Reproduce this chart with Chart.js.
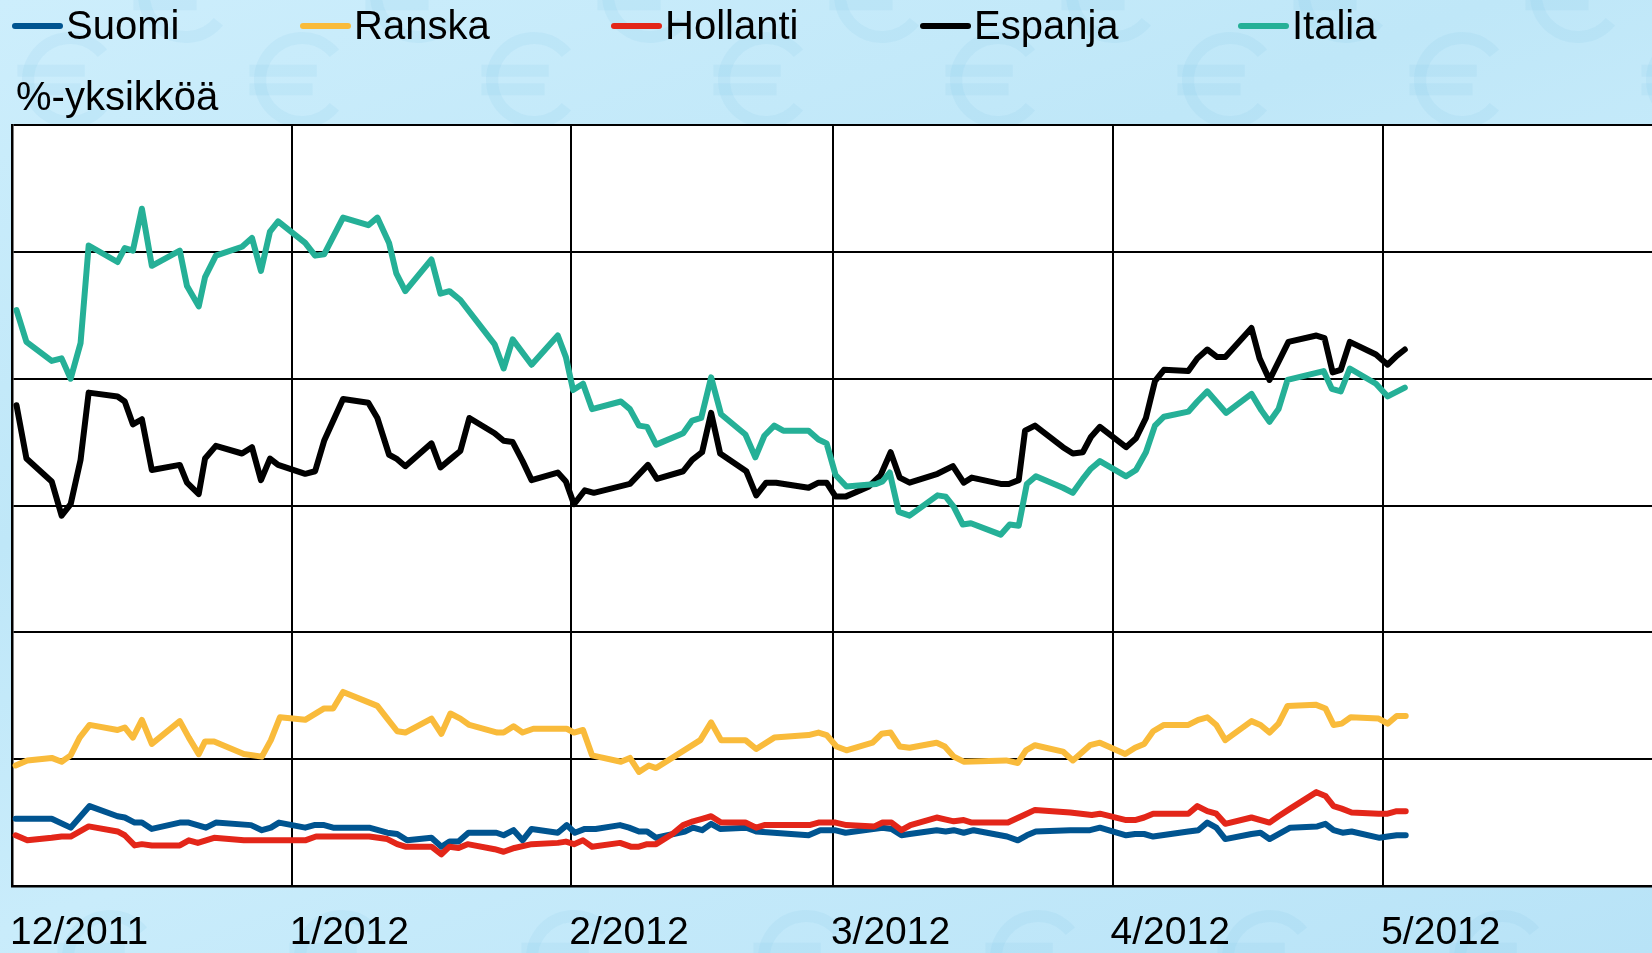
<!DOCTYPE html>
<html lang="fi">
<head>
<meta charset="utf-8">
<title>Korkoerot</title>
<script src="https://cdn.jsdelivr.net/npm/chart.js@4.4.1/dist/chart.umd.min.js"></script>
<style>
  html, body { margin: 0; padding: 0; }
  body {
    width: 1652px; height: 953px; overflow: hidden; position: relative;
    background: linear-gradient(160deg, #cdeefc 0%, #bfe7f8 35%, #c9ecfb 60%, #b8e3f7 100%);
    font-family: "Liberation Sans", Arial, sans-serif; color: #000;
  }
  #chart { position: absolute; left: 0; top: 0; }
  #legend { position: absolute; left: 0; top: 0; height: 51px; width: 1652px; }
  .lg { position: absolute; top: 0; height: 51px; display: flex; align-items: center; font-size: 40px; white-space: nowrap; }
  .lg i { display: inline-block; width: 51px; height: 6px; border-radius: 3px; margin-right: 3px; }
  #ytitle { position: absolute; left: 16px; top: 76px; font-size: 40px; line-height: 40px; white-space: nowrap; }
</style>
</head>
<body>
<canvas id="chart" width="1652" height="953"></canvas>
<div id="legend"></div>
<div id="ytitle">%-yksikköä</div>
<script>
// x = päiviä 1.12.2011 alkaen, y = %-yksikköä
const MONTH_DAYS = [0, 31, 62, 91, 122, 152];
const MONTH_LABELS = ['12/2011', '1/2012', '2/2012', '3/2012', '4/2012', '5/2012'];
const X_MAX = 181.8;
const Y_TICKS = [0, 1, 2, 3, 4, 5, 6];

const SERIES_NAMES = ['Suomi', 'Ranska', 'Hollanti', 'Espanja', 'Italia'];
const SERIES_COLORS = ['#005490', '#f9bb3b', '#e32619', '#000000', '#25b097'];
const LEGEND_X = [12, 300, 611, 920, 1238];

const SUOMI = [
  [0.4, 0.53], [4.4, 0.53], [6.5, 0.46], [8.6, 0.63], [11.7, 0.55], [12.5, 0.54], [13.6, 0.50], [14.4, 0.50],
  [15.5, 0.45], [18.6, 0.50], [19.6, 0.50], [21.5, 0.46], [22.6, 0.50], [26.5, 0.48], [27.7, 0.44], [28.7, 0.46],
  [29.6, 0.50], [32.5, 0.46], [33.5, 0.48], [34.6, 0.48], [35.6, 0.46], [39.6, 0.46], [41.6, 0.42], [42.7, 0.41],
  [43.8, 0.36], [46.5, 0.38], [47.6, 0.31], [48.5, 0.35], [49.5, 0.35], [50.6, 0.42], [53.7, 0.42], [54.5, 0.40],
  [55.6, 0.44], [56.6, 0.36], [57.6, 0.45], [60.5, 0.42], [61.5, 0.48], [62.4, 0.42], [63.5, 0.45], [64.7, 0.45],
  [67.4, 0.48], [68.4, 0.46], [69.5, 0.43], [70.4, 0.43], [71.4, 0.38], [74.6, 0.43], [75.5, 0.46], [76.5, 0.44],
  [77.5, 0.49], [78.5, 0.45], [81.4, 0.46], [82.5, 0.43], [88.3, 0.40], [89.6, 0.44], [91.2, 0.44], [92.4, 0.42],
  [96.5, 0.46], [97.5, 0.45], [98.6, 0.40], [99.5, 0.41], [102.5, 0.44], [103.5, 0.43], [104.4, 0.44], [105.5, 0.42],
  [106.6, 0.44], [110.3, 0.39], [111.5, 0.36], [112.5, 0.40], [113.5, 0.43], [117.3, 0.44], [119.5, 0.44], [120.6, 0.46],
  [123.5, 0.40], [124.5, 0.41], [125.5, 0.41], [126.5, 0.39], [130.4, 0.43], [131.5, 0.44], [132.5, 0.50], [133.5, 0.46],
  [134.5, 0.37], [137.4, 0.41], [138.4, 0.42], [139.4, 0.37], [141.7, 0.46], [144.7, 0.47], [145.6, 0.49], [146.5, 0.44],
  [147.5, 0.42], [148.5, 0.43], [151.6, 0.38], [152.5, 0.39], [153.5, 0.40], [154.5, 0.40]
];

const RANSKA = [
  [0.4, 0.95], [1.7, 0.99], [4.4, 1.01], [5.5, 0.98], [6.5, 1.03], [7.5, 1.17], [8.6, 1.27], [11.7, 1.23],
  [12.5, 1.25], [13.4, 1.17], [14.4, 1.31], [15.5, 1.12], [18.6, 1.30], [19.6, 1.17], [20.7, 1.04], [21.4, 1.14],
  [22.4, 1.14], [25.7, 1.04], [27.7, 1.02], [28.7, 1.15], [29.7, 1.33], [32.5, 1.31], [34.6, 1.40], [35.6, 1.40],
  [36.7, 1.53], [40.5, 1.42], [41.6, 1.32], [42.7, 1.22], [43.6, 1.21], [46.5, 1.32], [47.6, 1.20], [48.6, 1.36],
  [49.7, 1.32], [50.7, 1.27], [53.8, 1.21], [54.5, 1.21], [55.6, 1.26], [56.6, 1.21], [57.8, 1.24], [61.5, 1.24],
  [62.3, 1.21], [63.3, 1.23], [64.3, 1.03], [67.5, 0.98], [68.5, 1.01], [69.5, 0.90], [70.6, 0.95], [71.4, 0.93],
  [76.3, 1.15], [77.5, 1.29], [78.6, 1.15], [81.3, 1.15], [82.5, 1.08], [84.5, 1.17], [88.3, 1.19], [89.4, 1.21],
  [90.3, 1.19], [91.4, 1.10], [92.5, 1.07], [95.4, 1.13], [96.4, 1.20], [97.4, 1.21], [98.4, 1.10], [99.5, 1.09],
  [102.5, 1.13], [103.4, 1.10], [104.4, 1.02], [105.5, 0.98], [110.2, 0.99], [111.5, 0.97], [112.4, 1.07], [113.4, 1.11],
  [116.5, 1.06], [117.6, 0.99], [119.5, 1.11], [120.6, 1.13], [123.4, 1.04], [124.5, 1.09], [125.5, 1.12], [126.5, 1.22],
  [127.7, 1.27], [130.4, 1.27], [131.5, 1.31], [132.5, 1.33], [133.5, 1.27], [134.5, 1.15], [137.4, 1.30], [138.4, 1.27],
  [139.4, 1.21], [140.4, 1.28], [141.4, 1.42], [144.5, 1.43], [145.6, 1.40], [146.5, 1.27], [147.4, 1.28], [148.4, 1.33],
  [151.5, 1.32], [152.5, 1.28], [153.5, 1.34], [154.5, 1.34]
];

const HOLLANTI = [
  [0.4, 0.40], [1.7, 0.36], [4.4, 0.38], [5.5, 0.39], [6.5, 0.39], [8.5, 0.47], [11.7, 0.43], [12.5, 0.40],
  [13.6, 0.32], [14.4, 0.33], [15.5, 0.32], [18.6, 0.32], [19.6, 0.36], [20.6, 0.34], [22.4, 0.38], [25.7, 0.36],
  [32.5, 0.36], [33.7, 0.39], [39.6, 0.39], [41.6, 0.37], [42.7, 0.33], [43.6, 0.31], [46.5, 0.31], [47.6, 0.25],
  [48.5, 0.31], [49.5, 0.30], [50.5, 0.33], [53.5, 0.29], [54.5, 0.27], [55.7, 0.30], [57.6, 0.33], [60.5, 0.34],
  [61.4, 0.35], [62.3, 0.33], [63.3, 0.36], [64.3, 0.31], [67.4, 0.34], [68.6, 0.31], [69.5, 0.31], [70.4, 0.33],
  [71.4, 0.33], [73.2, 0.41], [74.4, 0.48], [75.5, 0.51], [76.5, 0.53], [77.5, 0.55], [78.6, 0.50], [81.3, 0.50],
  [82.5, 0.46], [83.4, 0.48], [88.4, 0.48], [89.4, 0.50], [91.3, 0.50], [92.5, 0.48], [95.6, 0.47], [96.5, 0.50],
  [97.5, 0.50], [98.6, 0.44], [99.6, 0.48], [102.5, 0.54], [104.4, 0.51], [105.5, 0.52], [106.4, 0.50], [110.4, 0.50],
  [112.2, 0.56], [113.4, 0.60], [117.3, 0.58], [119.7, 0.56], [120.6, 0.57], [123.5, 0.52], [124.5, 0.52], [125.5, 0.54],
  [126.5, 0.57], [130.4, 0.57], [131.4, 0.63], [132.5, 0.59], [133.5, 0.57], [134.5, 0.49], [137.4, 0.54], [139.4, 0.50],
  [140.4, 0.55], [141.7, 0.61], [144.6, 0.74], [145.6, 0.71], [146.5, 0.63], [147.4, 0.61], [148.5, 0.58], [151.5, 0.57],
  [152.5, 0.57], [153.5, 0.59], [154.5, 0.59]
];

const ESPANJA = [
  [0.5, 3.79], [1.6, 3.37], [4.4, 3.19], [5.5, 2.92], [6.5, 3.01], [7.6, 3.36], [8.5, 3.89], [11.7, 3.86],
  [12.5, 3.82], [13.4, 3.64], [14.4, 3.68], [15.5, 3.28], [18.6, 3.32], [19.4, 3.18], [20.7, 3.09], [21.4, 3.37],
  [22.6, 3.47], [25.5, 3.41], [26.6, 3.46], [27.6, 3.20], [28.6, 3.37], [29.5, 3.32], [32.5, 3.25], [33.6, 3.27],
  [34.6, 3.51], [36.7, 3.84], [39.5, 3.81], [40.5, 3.69], [41.8, 3.40], [42.6, 3.37], [43.6, 3.31], [46.5, 3.49],
  [47.5, 3.30], [48.5, 3.36], [49.7, 3.43], [50.7, 3.69], [53.5, 3.57], [54.5, 3.51], [55.5, 3.50], [56.6, 3.35],
  [57.6, 3.20], [60.5, 3.26], [61.4, 3.19], [62.3, 3.01], [63.5, 3.12], [64.5, 3.10], [68.5, 3.17], [70.5, 3.32],
  [71.5, 3.21], [74.4, 3.27], [75.4, 3.36], [76.5, 3.42], [77.5, 3.73], [78.5, 3.41], [81.4, 3.27], [82.5, 3.08],
  [83.6, 3.18], [84.7, 3.18], [88.3, 3.14], [89.4, 3.18], [90.3, 3.18], [91.3, 3.07], [92.4, 3.07], [95.0, 3.15],
  [96.3, 3.24], [97.4, 3.42], [98.4, 3.22], [99.5, 3.18], [102.6, 3.25], [104.3, 3.31], [105.5, 3.18], [106.4, 3.22],
  [109.6, 3.17], [110.5, 3.17], [111.6, 3.20], [112.3, 3.59], [113.4, 3.63], [116.5, 3.46], [117.6, 3.41], [118.7, 3.42],
  [119.6, 3.54], [120.6, 3.62], [123.5, 3.46], [124.6, 3.53], [125.7, 3.69], [126.7, 3.98], [127.7, 4.07], [130.4, 4.06],
  [131.4, 4.16], [132.5, 4.23], [133.6, 4.17], [134.5, 4.17], [137.4, 4.40], [138.3, 4.16], [139.4, 3.99], [141.5, 4.29],
  [144.6, 4.34], [145.5, 4.32], [146.4, 4.05], [147.3, 4.07], [148.3, 4.29], [151.2, 4.19], [152.5, 4.11], [153.5, 4.18],
  [154.4, 4.23]
];

const ITALIA = [
  [0.5, 4.54], [1.6, 4.29], [4.4, 4.14], [5.5, 4.16], [6.5, 4.00], [7.6, 4.28], [8.5, 5.05], [11.7, 4.92],
  [12.5, 5.03], [13.4, 5.01], [14.4, 5.34], [15.5, 4.89], [18.6, 5.01], [19.4, 4.73], [20.7, 4.57], [21.4, 4.80],
  [22.6, 4.97], [25.5, 5.04], [26.6, 5.11], [27.6, 4.85], [28.6, 5.16], [29.5, 5.24], [32.5, 5.07], [33.6, 4.97],
  [34.6, 4.98], [36.7, 5.27], [39.5, 5.21], [40.5, 5.27], [41.8, 5.07], [42.6, 4.83], [43.6, 4.69], [46.5, 4.94],
  [47.5, 4.67], [48.5, 4.69], [49.7, 4.62], [53.5, 4.27], [54.5, 4.08], [55.5, 4.31], [57.6, 4.11], [60.5, 4.34],
  [61.4, 4.17], [62.2, 3.91], [63.3, 3.96], [64.3, 3.76], [67.5, 3.82], [68.5, 3.76], [69.5, 3.63], [70.4, 3.62],
  [71.4, 3.48], [74.4, 3.57], [75.4, 3.67], [76.4, 3.69], [77.5, 4.01], [78.6, 3.72], [81.3, 3.56], [82.4, 3.38],
  [83.4, 3.55], [84.5, 3.63], [85.5, 3.59], [88.3, 3.59], [89.4, 3.52], [90.3, 3.49], [91.3, 3.24], [92.5, 3.15],
  [95.8, 3.17], [96.5, 3.19], [97.3, 3.26], [98.3, 2.95], [99.5, 2.92], [102.6, 3.08], [103.5, 3.07], [104.4, 2.99],
  [105.4, 2.85], [106.3, 2.86], [109.6, 2.77], [110.6, 2.85], [111.6, 2.84], [112.5, 3.17], [113.5, 3.23], [116.5, 3.14],
  [117.6, 3.10], [118.7, 3.21], [119.6, 3.29], [120.6, 3.35], [123.5, 3.23], [124.6, 3.28], [125.7, 3.42], [126.7, 3.63],
  [127.7, 3.70], [130.4, 3.74], [131.4, 3.82], [132.5, 3.90], [134.6, 3.73], [137.4, 3.88], [138.5, 3.75], [139.4, 3.66],
  [140.4, 3.76], [141.4, 3.99], [145.4, 4.06], [146.3, 3.92], [147.3, 3.90], [148.3, 4.08], [151.2, 3.96], [152.5, 3.86],
  [154.4, 3.93]
];

const SERIES_DATA = [SUOMI, RANSKA, HOLLANTI, ESPANJA, ITALIA];

// ── legend (html) ─────────────────────────────────────────────────────────────
const legendBox = document.getElementById('legend');
SERIES_NAMES.forEach((name, i) => {
  const d = document.createElement('div');
  d.className = 'lg';
  d.style.left = LEGEND_X[i] + 'px';
  d.innerHTML = `<i style="background:${SERIES_COLORS[i]}"></i>${name}`;
  legendBox.appendChild(d);
});

// taustan haaleat euro-kuviot + valkoinen piirtoalue
function euroMark(ctx, cx, cy, r) {
  ctx.beginPath();
  ctx.arc(cx, cy, r, Math.PI * 0.22, Math.PI * 1.78);
  ctx.stroke();
  ctx.beginPath();
  ctx.moveTo(cx - r * 1.25, cy - r * 0.22); ctx.lineTo(cx + r * 0.35, cy - r * 0.22);
  ctx.moveTo(cx - r * 1.25, cy + r * 0.22); ctx.lineTo(cx + r * 0.25, cy + r * 0.22);
  ctx.stroke();
}

const plotBg = {
  id: 'plotBg',
  beforeDraw(c) {
    const { ctx, chartArea: a } = c;
    ctx.save();
    ctx.strokeStyle = 'rgba(110, 185, 228, 0.10)';
    ctx.lineWidth = 12;
    ctx.lineCap = 'butt';
    for (let x = 70; x < 1700; x += 232) {
      euroMark(ctx, x, 80, 42);
      euroMark(ctx, x + 116, -5, 42);
      euroMark(ctx, x + 40, 958, 42);
    }
    ctx.fillStyle = '#ffffff';
    ctx.fillRect(a.left, a.top, a.right - a.left, a.bottom - a.top);
    ctx.restore();
  },
};

// lineHeight 2 + pieni padding -> kuukausitekstit oikealle korkeudelle ilman vasenta lisätilaa
const FONT = { family: '"Liberation Sans", Arial, sans-serif', size: 39, lineHeight: 2 };

new Chart(document.getElementById('chart'), {
  type: 'line',
  data: {
    datasets: SERIES_DATA.map((pts, i) => ({
      label: SERIES_NAMES[i],
      data: pts.map(([x, y]) => ({ x, y })),
      borderColor: SERIES_COLORS[i],
      backgroundColor: SERIES_COLORS[i],
      borderWidth: 6,
      pointRadius: 0,
      tension: 0,
      fill: false,
      borderJoinStyle: 'round',
      borderCapStyle: 'round',
      order: SERIES_DATA.length - i,
    })),
  },
  options: {
    responsive: false,
    animation: false,
    devicePixelRatio: 1,
    layout: { padding: { left: 12, top: 125, right: 0, bottom: -27 } },
    plugins: { legend: { display: false }, tooltip: { enabled: false } },
    scales: {
      x: {
        type: 'linear',
        min: 0,
        max: X_MAX,
        afterBuildTicks: (s) => { s.ticks = MONTH_DAYS.map(v => ({ value: v })); },
        ticks: {
          autoSkip: false,
          maxRotation: 0,
          align: 'start',
          padding: 8,
          labelOffset: -2,
          color: '#000',
          font: FONT,
          callback: (v) => MONTH_LABELS[MONTH_DAYS.indexOf(v)],
        },
        grid: { color: '#000', lineWidth: 2, drawTicks: false },
        border: { display: true, color: '#000', width: 2.5 },
      },
      y: {
        min: Y_TICKS[0],
        max: Y_TICKS[Y_TICKS.length - 1],
        afterBuildTicks: (s) => { s.ticks = Y_TICKS.map(v => ({ value: v })); },
        ticks: { display: false },
        grid: { color: '#000', lineWidth: 2, drawTicks: false },
        border: { display: true, color: '#000', width: 2.5 },
      },
    },
  },
  plugins: [plotBg],
});
</script>
</body>
</html>
